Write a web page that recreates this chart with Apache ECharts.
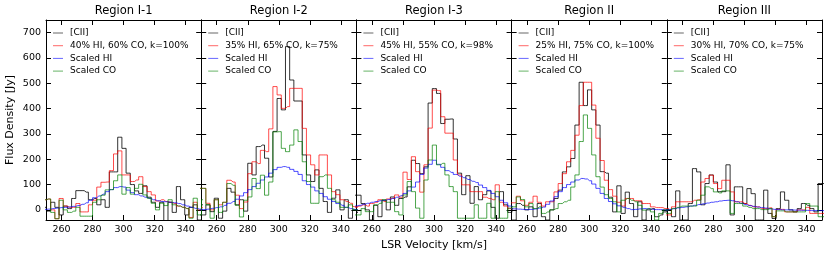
<!DOCTYPE html>
<html><head><meta charset="utf-8">
<script src="https://cdn.jsdelivr.net/npm/echarts@6/dist/echarts.min.js"></script>
<style>html,body{margin:0;padding:0;background:#fff}#c{width:830px;height:258px}</style>
</head><body><div id="c"></div>
<script>
// channel centres (km/s)
const velocity = [248.95, 251.65, 254.35, 257.05, 259.75, 262.45, 265.15, 267.85, 270.55, 273.25, 275.95, 278.65, 281.35, 284.05, 286.75, 289.45, 292.15, 294.85, 297.55, 300.25, 302.95, 305.65, 308.35, 311.05, 313.75, 316.45, 319.15, 321.85, 324.55, 327.25, 329.95, 332.65, 335.35, 338.05, 340.75, 343.45, 346.15, 348.85, 351.55];

const regionTitles = ['Region I-1', 'Region I-2', 'Region I-3', 'Region II', 'Region III'];
const mixLabels = ['40% HI, 60% CO, k=100%', '35% HI, 65% CO, k=75%', '45% HI, 55% CO, k=98%', '25% HI, 75% CO, k=100%', '30% HI, 70% CO, k=75%'];
const xTicks = [260, 280, 300, 320, 340];
const yTicks = [0, 100, 200, 300, 400, 500, 600, 700];

// Region I-1
const cii1 = [10, -5, 30, 10, -20, 15, 5, 45, 76, 76, 70, 40, 45, 20, 40, 10, 150, 150, 287, 243, 145, 100, 75, 65, 95, 50, 30, 10, 30, -45, 30, -10, 92, 40, -20, 10, 20, -40, 20];
const mix1 = [40, 43, 0, -35, 45, 15, 10, 10, 25, -8, -8, 20, 38, 90, 109, 110, 155, 221, 233, 138, 138, 112, 118, 131, 92, 72, 59, 35, 40, 33, 30, 25, 15, 10, 5, -30, 30, 0, 10];
const hi1 = [2, 3, 5, 7, 9, 10, 12, 14, 17, 22, 28, 38, 48, 55, 62, 72, 80, 88, 92, 90, 78, 68, 60, 55, 50, 45, 40, 36, 33, 32, 30, 28, 25, 20, 15, 10, 6, 3, 2];
const co1 = [40, 43, -10, -35, 38, 0, -10, -5, 10, -25, -25, -25, 30, 40, 58, 79, 80, 115, 138, 62, 88, 62, 85, 101, 59, 46, 26, 0, 26, 17, 40, 20, 15, 10, 5, -33, 46, -20, 40];
// Region I-2
const cii2 = [-20, -20, 20, -7, 46, -33, -5, 85, 70, 20, 40, -5, 184, 138, 250, 256, 204, 130, 310, 440, 395, 645, 513, 430, 430, 217, 138, 112, 158, 85, 33, -10, 46, 79, 0, 40, -33, 0, -10];
const mix2 = [85, 85, 26, 0, 40, 20, 30, 117, 110, 58, 5, 31, 143, 190, 183, 235, 230, 320, 487, 454, 401, 408, 480, 480, 480, 322, 217, 178, 138, 217, 217, 138, 72, 60, 40, 33, 26, 13, 10];
const hi2 = [0, 1, 3, 6, 9, 12, 18, 26, 33, 42, 55, 68, 80, 92, 105, 118, 130, 145, 159, 168, 171, 168, 160, 152, 140, 115, 100, 90, 75, 65, 52, 42, 33, 25, 18, 10, 5, 2, 0];
const co2 = [85, 85, 20, -33, 40, -10, 30, 104, 97, 18, -28, 38, 51, 124, 84, 137, 58, 110, 308, 309, 243, 230, 256, 316, 270, 190, 112, 26, 26, 131, 138, 85, 40, 30, 10, 10, 20, 0, 0];
// Region I-3
const cii3 = [58, 58, 25, 0, -40, 18, -27, 38, 0, 51, 18, 45, 51, 91, 196, 183, 143, 170, 422, 479, 460, 341, 358, 359, 280, 145, 60, 135, 26, 92, 40, 60, 75, 10, -33, 72, 20, -10, 0];
const mix3 = [10, 15, 20, 15, 25, 30, 40, 33, 43, 46, 59, 50, 149, 120, 210, 151, 70, 178, 323, 473, 471, 368, 303, 303, 197, 138, 99, 99, 72, 72, 72, 50, 45, 40, 99, 30, 15, 5, 5];
const hi3 = [15, 18, 22, 26, 30, 33, 36, 38, 41, 45, 50, 56, 65, 75, 90, 110, 140, 165, 180, 196, 180, 168, 155, 148, 140, 133, 127, 120, 113, 108, 98, 88, 77, 65, 52, 38, 28, 15, 10];
const co3 = [-20, -20, 5, -7, -7, 20, 26, 40, 30, 30, -7, -20, 59, 112, 72, 7, -33, 118, 197, 256, 178, 184, 138, 92, 72, -33, -33, -33, -33, 20, -33, -33, 26, -33, 72, -33, -33, 7, 7];
// Region II
const cii4 = [-40, -40, 25, 18, 0, 12, -27, 25, -27, -40, 0, 45, 78, 150, 170, 203, 335, 504, 412, 474, 395, 335, 151, 145, 50, -8, 95, -14, 70, 25, -27, 32, -40, 0, 5, -27, -20, -8, 0];
const mix4 = [28, 28, 54, 36, 18, 30, 54, 30, 15, 32, 32, 71, 104, 143, 190, 235, 295, 412, 504, 504, 414, 283, 195, 117, 80, 54, 30, 15, 45, 45, 36, 36, 25, 25, 12, 9, 9, 5, 5];
const hi4 = [5, 4, 3, 2, 1, 2, 4, 7, 11, 22, 35, 52, 72, 88, 100, 110, 118, 124, 122, 115, 102, 85, 65, 45, 33, 24, 16, 10, 5, 1, 2, 4, 5, 4, 2, 1, 1, 0, 0];
const co4 = [12, 12, 51, 41, 12, 25, 5, 12, -14, -8, 0, 5, 25, 32, 38, 90, 138, 270, 375, 322, 217, 131, 90, 60, 45, 32, -8, 38, 45, 38, 32, 18, -1, 5, -8, -40, -14, 0, 0];
// Region III
const cii5 = [0, 0, -27, 75, -40, -40, 25, 163, 150, 20, 104, 138, 110, 72, 72, 178, -20, 91, 91, 25, 84, 64, -40, -40, 78, -14, -34, 5, 71, 38, 0, -8, 5, 25, 18, 5, -8, 104, 104];
const mix5 = [-20, -20, 12, 32, 32, 32, 32, 38, 40, 110, 124, 137, 104, 84, 117, 117, 71, 32, 32, 25, 18, 12, 12, 5, 5, 8, -27, 2, 2, -8, -8, -8, 0, 0, 10, -14, -14, -14, -14];
const hi5 = [0, 2, 5, 8, 10, 12, 15, 18, 21, 24, 27, 30, 32, 35, 37, 38, 36, 32, 26, 21, 17, 14, 11, 9, 7, 4, 2, 1, 0, 0, 0, -1, -1, -2, -2, -3, -3, -3, -3];
const co5 = [-14, -14, 5, 10, 15, 15, 15, 15, 38, 58, 91, 84, 71, 67, 75, 75, -14, 25, 25, 15, 10, 5, 5, 1, 1, 5, -27, -4, -4, -8, -8, -8, -8, -8, 25, 15, 15, -27, -27];

const panels = [
  [cii1, mix1, hi1, co1],
  [cii2, mix2, hi2, co2],
  [cii3, mix3, hi3, co3],
  [cii4, mix4, hi4, co4],
  [cii5, mix5, hi5, co5]
];
const colors = ['#000000', '#ff0000', '#0000ff', '#008000'];
const FONT = 'DejaVu Sans';

const chart = echarts.init(document.getElementById('c'), null, {renderer: 'canvas'});
const L0 = 46, W = 155.2, TOP = 20, H = 200;
const grid = [], xAxis = [], yAxis = [], series = [], legend = [], graphic = [];

panels.forEach((arrs, i) => {
  const left = L0 + i * W;
  grid.push({left: left, top: TOP, width: W, height: H, containLabel: false});
  const xb = {
    type: 'value', gridIndex: i, min: 250, max: 350, position: 'bottom',
    axisLine: {show: true, onZero: false, lineStyle: {color: '#000', width: 1}},
    axisTick: {show: true, inside: true, length: 5, customValues: xTicks, lineStyle: {color: '#000', width: 1}},
    axisLabel: {show: true, customValues: xTicks, fontSize: 9.5, color: '#000', fontFamily: FONT, margin: 5},
    splitLine: {show: false}
  };
  if (i === 2) {
    xb.name = 'LSR Velocity [km/s]';
    xb.nameLocation = 'middle';
    xb.nameGap = 18;
    xb.nameTextStyle = {fontSize: 11, color: '#000', fontFamily: FONT};
  }
  xAxis.push(xb);
  xAxis.push({
    type: 'value', gridIndex: i, min: 250, max: 350, position: 'top',
    axisLine: {show: true, onZero: false, lineStyle: {color: '#000', width: 1}},
    axisTick: {show: true, inside: true, length: 5, customValues: xTicks, lineStyle: {color: '#000', width: 1}},
    axisLabel: {show: false}, splitLine: {show: false}
  });
  const yl = {
    type: 'value', gridIndex: i, min: -40, max: 750, position: 'left',
    axisLine: {show: true, onZero: false, lineStyle: {color: '#000', width: 1}},
    axisTick: {show: true, inside: true, length: 5, customValues: yTicks, lineStyle: {color: '#000', width: 1}},
    axisLabel: {show: i === 0, customValues: yTicks, fontSize: 9.5, color: '#000', fontFamily: FONT, margin: 5},
    splitLine: {show: false}
  };
  if (i === 0) {
    yl.name = 'Flux Density [Jy]';
    yl.nameLocation = 'middle';
    yl.nameGap = 30;
    yl.nameTextStyle = {fontSize: 11, color: '#000', fontFamily: FONT};
  }
  yAxis.push(yl);
  yAxis.push({
    type: 'value', gridIndex: i, min: -40, max: 750, position: 'right',
    axisLine: {show: true, onZero: false, lineStyle: {color: '#000', width: 1}},
    axisTick: {show: true, inside: true, length: 5, customValues: yTicks, lineStyle: {color: '#000', width: 1}},
    axisLabel: {show: false}, splitLine: {show: false}
  });
  const names = ['[CII]', mixLabels[i], 'Scaled HI', 'Scaled CO'];
  arrs.forEach((arr, j) => {
    series.push({
      name: names[j], type: 'line', xAxisIndex: 2 * i, yAxisIndex: 2 * i,
      data: velocity.map((v, k) => [v, arr[k]]),
      step: 'middle', symbol: 'none', showSymbol: false, clip: true,
      lineStyle: {color: colors[j], width: 1, opacity: j === 0 ? 0.8 : 0.7},
      itemStyle: {color: colors[j], opacity: 0.6},
      emphasis: {disabled: true}, silent: true, z: 2 + j
    });
  });
  legend.push({
    data: names.map(n => ({name: n, icon: 'rect'})),
    orient: 'vertical', left: left + 7, top: 28,
    itemWidth: 10, itemHeight: 1, itemGap: 2.7, padding: 0,
    selectedMode: false,
    itemStyle: {opacity: 0.6},
    textStyle: {fontSize: 9, color: '#000', fontFamily: FONT, lineHeight: 10, padding: [0, 0, 0, 2]}
  });
  graphic.push({
    type: 'text', x: left + W / 2, y: 11,
    style: {text: regionTitles[i], fontSize: 11.5, fontFamily: FONT, fill: '#000', textAlign: 'center', textVerticalAlign: 'middle'}
  });
});

chart.setOption({
  animation: false,
  backgroundColor: '#fff',
  grid, xAxis, yAxis, series, legend, graphic
});
</script>
</body></html>
